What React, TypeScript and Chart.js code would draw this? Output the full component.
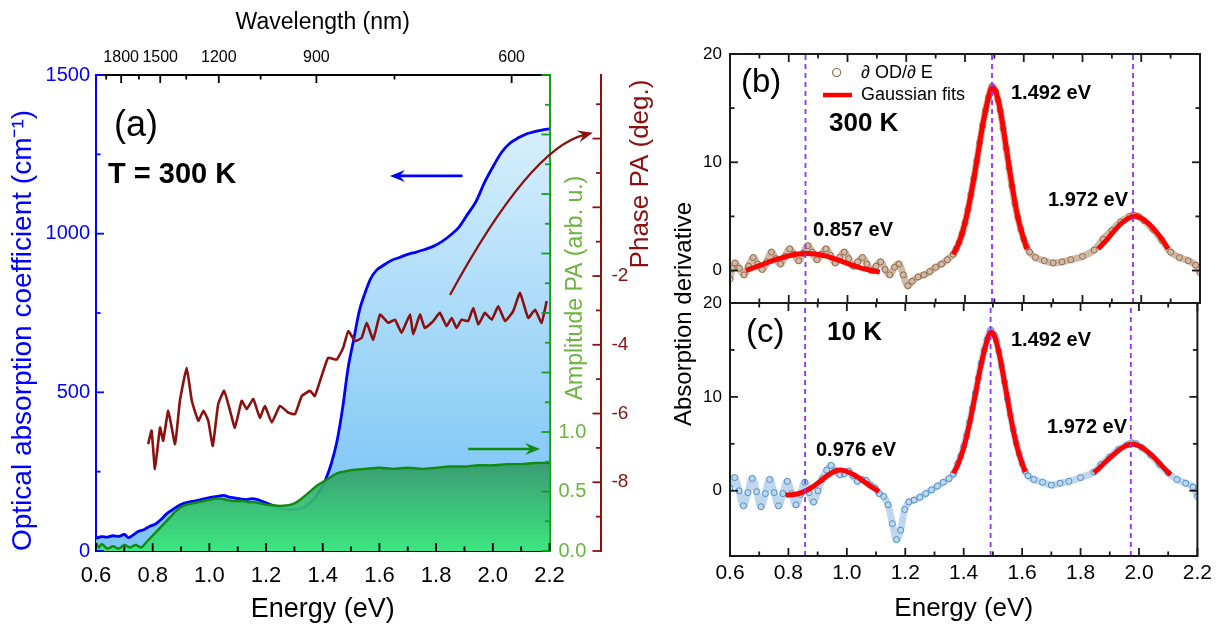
import React, { useEffect, useRef } from "react";
import { Chart, registerables } from "chart.js";

Chart.register(...registerables);
const FONT = "'Liberation Sans', Arimo, Arial, Helvetica, sans-serif";
Chart.defaults.font.family = FONT;

// ---------------- Panel (a) data ----------------
const absorption: number[][] = [
  [0.6, 40], [0.62, 45], [0.64, 44], [0.66, 48], [0.68, 46], [0.7, 52], [0.715, 42], [0.73, 50],
  [0.75, 62], [0.77, 68], [0.79, 78], [0.81, 85], [0.83, 100], [0.85, 118], [0.87, 130], [0.89, 142],
  [0.91, 150], [0.93, 155], [0.95, 158], [0.97, 162], [0.99, 166], [1.01, 170], [1.03, 172], [1.05, 175],
  [1.07, 170], [1.09, 167], [1.11, 164], [1.13, 162], [1.15, 165], [1.17, 162], [1.19, 155], [1.21, 148],
  [1.23, 142], [1.25, 136], [1.27, 131], [1.29, 130], [1.31, 131], [1.33, 137], [1.35, 148], [1.37, 165],
  [1.39, 190], [1.41, 225], [1.43, 275], [1.45, 345], [1.47, 450], [1.49, 580], [1.51, 670], [1.53, 760],
  [1.55, 815], [1.57, 860], [1.59, 885], [1.61, 898], [1.64, 915], [1.67, 925], [1.7, 935], [1.73, 942],
  [1.76, 950], [1.79, 960], [1.82, 975], [1.85, 995], [1.88, 1020], [1.91, 1060], [1.94, 1100], [1.97, 1160],
  [2.0, 1210], [2.03, 1255], [2.06, 1285], [2.09, 1302], [2.12, 1315], [2.15, 1322], [2.18, 1328], [2.2, 1330],
];
const amplitude: number[][] = [
  [0.6, 0.07], [0.61, 0.03], [0.62, 0.06], [0.64, 0.02], [0.66, 0.04], [0.68, 0.02], [0.7, 0.05], [0.72, 0.03],
  [0.74, 0.05], [0.76, 0.03], [0.78, 0.08], [0.8, 0.13], [0.82, 0.18], [0.84, 0.23], [0.86, 0.28], [0.88, 0.33],
  [0.9, 0.37], [0.92, 0.39], [0.94, 0.4], [0.96, 0.41], [0.98, 0.42], [1.0, 0.43], [1.02, 0.44], [1.04, 0.44],
  [1.06, 0.43], [1.08, 0.42], [1.1, 0.42], [1.12, 0.42], [1.14, 0.41], [1.16, 0.41], [1.18, 0.4], [1.2, 0.39],
  [1.22, 0.385], [1.24, 0.38], [1.26, 0.38], [1.28, 0.385], [1.3, 0.4], [1.32, 0.43], [1.34, 0.47], [1.36, 0.51],
  [1.38, 0.55], [1.4, 0.58], [1.42, 0.61], [1.44, 0.64], [1.46, 0.66], [1.48, 0.67], [1.5, 0.68], [1.55, 0.69],
  [1.6, 0.7], [1.65, 0.69], [1.7, 0.7], [1.75, 0.69], [1.8, 0.7], [1.85, 0.71], [1.9, 0.71], [1.95, 0.72],
  [2.0, 0.72], [2.05, 0.73], [2.1, 0.73], [2.15, 0.74], [2.2, 0.74],
];
const phase: number[][] = [
  [0.784, -6.89], [0.796, -6.5], [0.808, -7.61], [0.826, -6.41], [0.837, -6.79], [0.855, -5.92], [0.879, -6.89],
  [0.896, -5.63], [0.92, -4.67], [0.938, -5.63], [0.961, -6.21], [0.979, -5.92], [0.996, -6.21], [1.012, -6.94],
  [1.031, -5.73], [1.052, -5.34], [1.073, -5.92], [1.09, -6.41], [1.114, -5.63], [1.132, -5.87], [1.155, -5.58],
  [1.178, -6.12], [1.196, -5.78], [1.22, -6.26], [1.249, -5.78], [1.278, -5.97], [1.302, -6.02], [1.326, -5.49],
  [1.355, -5.34], [1.372, -5.49], [1.396, -4.91], [1.419, -4.38], [1.449, -4.43], [1.472, -4.09], [1.49, -3.6],
  [1.514, -3.89], [1.537, -3.8], [1.555, -3.36], [1.578, -3.85], [1.602, -3.12], [1.631, -3.36], [1.655, -3.27],
  [1.678, -3.65], [1.708, -3.12], [1.719, -3.7], [1.743, -3.12], [1.76, -3.51], [1.79, -3.31], [1.813, -3.07],
  [1.837, -3.46], [1.855, -3.22], [1.872, -3.51], [1.89, -3.27], [1.913, -3.31], [1.931, -2.93], [1.949, -3.41],
  [1.972, -3.07], [1.996, -3.27], [2.019, -2.88], [2.043, -3.31], [2.072, -3.02], [2.096, -2.49], [2.125, -3.22],
  [2.149, -2.98], [2.172, -3.36], [2.19, -2.73],
];
const wavelengthTicks = [1950, 1800, 1650, 1500, 1350, 1200, 1050, 900, 750, 600];
const wavelengthLabels = [1800, 1500, 1200, 900, 600];

// ---------------- Panel (b) data: 300 K ----------------
const deriv300K: number[][] = [
  [0.6, -0.8], [0.608, 0.2], [0.617, 0.7], [0.632, 0.2], [0.648, -0.4], [0.663, 0.4], [0.679, 1.2], [0.694, 0.6],
  [0.71, 0.1], [0.725, 0.8], [0.741, 1.7], [0.756, 1.1], [0.772, 0.6], [0.787, 1.3], [0.803, 2.0], [0.818, 1.5],
  [0.834, 0.9], [0.849, 1.6], [0.865, 2.3], [0.88, 1.7], [0.896, 1.0], [0.911, 1.5], [0.927, 2.0], [0.942, 1.4],
  [0.958, 0.7], [0.973, 1.2], [0.989, 1.7], [1.004, 1.1], [1.02, 0.4], [1.035, 0.8], [1.051, 1.2], [1.066, 0.6],
  [1.082, 0.0], [1.097, 0.4], [1.113, 0.8], [1.128, 0.1], [1.144, -0.4], [1.16, 0.3], [1.175, 0.6], [1.19, -0.4],
  [1.205, -1.4], [1.22, -1.0], [1.24, -0.6], [1.26, -0.4], [1.28, -0.1], [1.3, 0.3], [1.32, 0.6], [1.34, 1.0],
  [1.36, 1.5], [1.37, 2.0], [1.38, 2.6], [1.39, 3.4], [1.4, 4.4], [1.41, 5.6], [1.42, 7.0], [1.43, 8.5],
  [1.44, 10.1], [1.45, 11.8], [1.46, 13.4], [1.47, 14.8], [1.48, 16.0], [1.492, 17.0], [1.505, 16.5], [1.512, 15.8],
  [1.52, 14.8], [1.53, 13.1], [1.54, 11.3], [1.55, 9.5], [1.56, 7.8], [1.57, 6.2], [1.58, 4.9], [1.59, 3.8],
  [1.6, 2.9], [1.61, 2.2], [1.62, 1.7], [1.64, 1.2], [1.67, 0.9], [1.7, 0.7], [1.73, 0.8], [1.76, 1.0],
  [1.8, 1.3], [1.84, 1.9], [1.87, 2.9], [1.9, 3.7], [1.93, 4.5], [1.96, 5.0], [1.975, 5.1], [1.99, 5.0],
  [2.01, 4.6], [2.04, 3.8], [2.07, 2.8], [2.1, 1.7], [2.13, 1.2], [2.16, 0.9], [2.185, 0.5], [2.2, -0.2],
];
const fit300K_1: number[][] = [
  [0.654, 0.0], [0.7, 0.45], [0.75, 0.95], [0.8, 1.35], [0.83, 1.52], [0.861, 1.58], [0.89, 1.52], [0.93, 1.3],
  [0.97, 0.95], [1.01, 0.55], [1.05, 0.2], [1.08, 0.0], [1.11, -0.15],
];
const fit300K_2: number[][] = [
  [1.36, 1.5], [1.38, 2.6], [1.4, 4.4], [1.42, 7.0], [1.44, 10.1], [1.46, 13.4], [1.48, 16.0], [1.492, 16.9],
  [1.505, 16.5], [1.52, 14.8], [1.54, 11.4], [1.56, 7.9], [1.58, 4.9], [1.6, 2.9], [1.611, 2.0],
];
const fit300K_3: number[][] = [
  [1.853, 2.0], [1.88, 2.75], [1.9, 3.4], [1.93, 4.3], [1.955, 4.8], [1.975, 5.0], [1.995, 4.9], [2.02, 4.45],
  [2.05, 3.6], [2.07, 2.9], [2.091, 2.0],
];

// ---------------- Panel (c) data: 10 K ----------------
const deriv10K: number[][] = [
  [0.6, 0.3], [0.616, 1.4], [0.631, 0.0], [0.646, -1.6], [0.661, -0.2], [0.676, 1.3], [0.691, -0.1], [0.706, -1.7],
  [0.721, -0.3], [0.736, 1.2], [0.751, -0.2], [0.766, -1.6], [0.781, -0.3], [0.796, 1.0], [0.811, -0.3], [0.826, -1.5],
  [0.841, -0.4], [0.856, 0.9], [0.871, -0.2], [0.886, -1.2], [0.901, 0.0], [0.916, 1.3], [0.931, 2.2], [0.946, 2.7],
  [0.961, 2.1], [0.976, 1.7], [0.991, 1.8], [1.006, 2.1], [1.021, 1.6], [1.036, 1.0], [1.051, 1.2], [1.066, 1.1],
  [1.081, 0.6], [1.096, 0.3], [1.111, -0.3], [1.126, -0.6], [1.141, -1.5], [1.156, -3.5], [1.17, -5.2], [1.184, -4.2],
  [1.198, -2.0], [1.212, -1.2], [1.23, -1.0], [1.25, -0.7], [1.27, -0.3], [1.29, 0.1], [1.31, 0.5], [1.33, 0.9],
  [1.35, 1.3], [1.365, 1.8], [1.38, 2.9], [1.39, 3.7], [1.4, 4.7], [1.41, 5.9], [1.42, 7.3], [1.43, 8.8],
  [1.44, 10.4], [1.45, 12.0], [1.46, 13.6], [1.47, 15.0], [1.48, 16.1], [1.492, 17.1], [1.505, 16.6], [1.512, 16.0],
  [1.52, 14.9], [1.53, 13.3], [1.54, 11.6], [1.55, 9.8], [1.56, 8.1], [1.57, 6.5], [1.58, 5.1], [1.59, 3.9],
  [1.6, 2.9], [1.61, 2.1], [1.62, 1.6], [1.64, 1.2], [1.67, 0.9], [1.7, 0.6], [1.73, 0.8], [1.76, 1.0],
  [1.8, 1.4], [1.846, 2.0], [1.87, 2.8], [1.9, 3.6], [1.93, 4.4], [1.96, 4.9], [1.975, 5.1], [1.99, 5.0],
  [2.01, 4.6], [2.04, 3.8], [2.07, 2.8], [2.1, 1.9], [2.13, 1.2], [2.16, 0.8], [2.185, 0.4], [2.2, -0.6],
];
const fit10K_1: number[][] = [
  [0.79, -0.46], [0.82, -0.4], [0.85, -0.15], [0.88, 0.35], [0.91, 1.05], [0.94, 1.75], [0.96, 2.1], [0.978, 2.2],
  [1.0, 2.05], [1.03, 1.6], [1.06, 0.95], [1.09, 0.3], [1.11, -0.1],
];
const fit10K_2: number[][] = [
  [1.365, 1.86], [1.38, 2.8], [1.4, 4.6], [1.42, 7.2], [1.44, 10.3], [1.46, 13.5], [1.48, 16.0], [1.492, 16.9],
  [1.505, 16.5], [1.52, 14.8], [1.54, 11.5], [1.56, 8.0], [1.58, 5.0], [1.6, 2.9], [1.611, 2.0],
];
const fit10K_3: number[][] = [
  [1.846, 1.9], [1.87, 2.6], [1.9, 3.5], [1.93, 4.3], [1.955, 4.8], [1.975, 4.95], [1.995, 4.85], [2.02, 4.4],
  [2.05, 3.6], [2.08, 2.6], [2.108, 1.7],
];
const peakEnergies = [0.857, 1.492, 1.972];
const yRangeB = [-3, 20];
const yRangeC = [-6.95, 20];

// ---------------- helpers ----------------
const pts = (arr: number[][]) => arr.map(([x, y]) => ({ x, y }));
const isMult = (v: number, s: number) => Math.abs(v / s - Math.round(v / s)) < 1e-6;
const BLUE = "#0000ff";
const RED = "#8b1111";
const GREEN_LINE = "#118a11";
const GREEN_AXIS = "#14a014";
const GREEN_TEXT = "#6cb33f";
const VIOLET = "#9130ff";
const NO_GRID = { display: false, drawTicks: false };

type TickSpec = {
  scale: string;
  at: "top" | "bottom" | "left" | "right" | "own";
  dir: number;
  color: string;
  major: (v: number) => boolean;
  minor: (v: number) => boolean;
};

function ticksPlugin(specs: TickSpec[]) {
  return {
    id: "inwardTicks",
    afterDraw(chart: any) {
      const { ctx, chartArea: ca } = chart;
      specs.forEach((sp) => {
        const s = chart.scales[sp.scale];
        if (!s) return;
        ctx.save();
        ctx.strokeStyle = sp.color;
        ctx.lineWidth = 1.8;
        for (const t of s.ticks) {
          const v = t.value;
          const maj = sp.major(v);
          if (!maj && !sp.minor(v)) continue;
          const len = maj ? 8 : 4.5;
          const p = s.getPixelForValue(v);
          ctx.beginPath();
          if (s.isHorizontal()) {
            const y0 = sp.at === "top" ? ca.top : ca.bottom;
            ctx.moveTo(p, y0);
            ctx.lineTo(p, y0 + sp.dir * len);
          } else {
            const x0 = sp.at === "left" ? ca.left : sp.at === "right" ? ca.right : s.left;
            ctx.moveTo(x0, p);
            ctx.lineTo(x0 + sp.dir * len, p);
          }
          ctx.stroke();
        }
        ctx.restore();
      });
    },
  };
}

type Note = {
  kind?: "text" | "circle" | "line";
  text?: string;
  x: number;
  y: number;
  x2?: number;
  font?: string;
  color: string;
  rotate?: boolean;
  width?: number;
};

function notesPlugin(notes: Note[]) {
  return {
    id: "notes",
    afterDraw(chart: any) {
      const ctx = chart.ctx;
      notes.forEach((n) => {
        ctx.save();
        if (n.kind === "circle") {
          ctx.strokeStyle = n.color;
          ctx.lineWidth = 1.2;
          ctx.beginPath();
          ctx.arc(n.x, n.y, 4, 0, Math.PI * 2);
          ctx.stroke();
        } else if (n.kind === "line") {
          ctx.strokeStyle = n.color;
          ctx.lineWidth = n.width || 4;
          ctx.beginPath();
          ctx.moveTo(n.x, n.y);
          ctx.lineTo(n.x2 || n.x, n.y);
          ctx.stroke();
        } else {
          ctx.fillStyle = n.color;
          ctx.font = n.font || `18px ${FONT}`;
          ctx.textBaseline = "middle";
          if (n.rotate) {
            ctx.translate(n.x, n.y);
            ctx.rotate(-Math.PI / 2);
            ctx.textAlign = "center";
            ctx.fillText(n.text || "", 0, 0);
          } else {
            ctx.textAlign = "left";
            ctx.fillText(n.text || "", n.x, n.y);
          }
        }
        ctx.restore();
      });
    },
  };
}

type Arrow = { ys: string; path: number[][]; color: string; width: number };

function arrowsPlugin(arrows: Arrow[]) {
  return {
    id: "arrows",
    afterDraw(chart: any) {
      const ctx = chart.ctx;
      const xs = chart.scales.x;
      arrows.forEach((a) => {
        const ys = chart.scales[a.ys];
        const p = a.path.map(([x, y]) => [xs.getPixelForValue(x), ys.getPixelForValue(y)]);
        const tip = p[p.length - 1];
        const prev = p[p.length - 2];
        let dx = tip[0] - prev[0];
        let dy = tip[1] - prev[1];
        const L = Math.hypot(dx, dy) || 1;
        dx /= L;
        dy /= L;
        const hl = 15;
        const hw = 6;
        ctx.save();
        ctx.strokeStyle = a.color;
        ctx.fillStyle = a.color;
        ctx.lineWidth = a.width;
        ctx.beginPath();
        ctx.moveTo(p[0][0], p[0][1]);
        const endX = tip[0] - dx * hl * 0.6;
        const endY = tip[1] - dy * hl * 0.6;
        if (p.length === 3) ctx.quadraticCurveTo(p[1][0], p[1][1], endX, endY);
        else ctx.lineTo(endX, endY);
        ctx.stroke();
        ctx.beginPath();
        ctx.moveTo(tip[0], tip[1]);
        ctx.lineTo(tip[0] - dx * hl - dy * hw, tip[1] - dy * hl + dx * hw);
        ctx.lineTo(tip[0] - dx * hl * 0.65, tip[1] - dy * hl * 0.65);
        ctx.lineTo(tip[0] - dx * hl + dy * hw, tip[1] - dy * hl - dx * hw);
        ctx.closePath();
        ctx.fill();
        ctx.restore();
      });
    },
  };
}

const framePlugin = {
  id: "frame",
  afterDraw(chart: any) {
    const { ctx, chartArea: ca } = chart;
    ctx.save();
    ctx.strokeStyle = "#1a1a1a";
    ctx.lineWidth = 2;
    ctx.strokeRect(ca.left, ca.top, ca.right - ca.left, ca.bottom - ca.top);
    ctx.restore();
  },
};

const blueFill = (c: any) => {
  const chart = c.chart;
  const ca = chart.chartArea;
  if (!ca) return "rgba(140,205,245,0.7)";
  const g = chart.ctx.createLinearGradient(0, ca.top, 0, ca.bottom);
  g.addColorStop(0, "#e4f5fd");
  g.addColorStop(0.8, "#88cbf6");
  g.addColorStop(1, "#7cc5f3");
  return g;
};
const greenFill = (c: any) => {
  const chart = c.chart;
  const s = chart.scales.yAmp;
  if (!s || !chart.chartArea) return "rgba(60,200,110,0.9)";
  const g = chart.ctx.createLinearGradient(0, s.getPixelForValue(0.78), 0, s.getPixelForValue(0));
  g.addColorStop(0, "rgba(50,148,100,0.9)");
  g.addColorStop(1, "rgba(58,232,122,0.95)");
  return g;
};

function configA(): any {
  return {
    type: "line",
    data: {
      datasets: [
        {
          label: "Phase PA",
          data: pts(phase),
          yAxisID: "yPh",
          borderColor: RED,
          borderWidth: 2.6,
          pointRadius: 0,
          tension: 0.12,
          fill: false,
        },
        {
          label: "Amplitude PA",
          data: pts(amplitude),
          yAxisID: "yAmp",
          borderColor: GREEN_LINE,
          borderWidth: 2.4,
          pointRadius: 0,
          tension: 0.25,
          fill: "origin",
          backgroundColor: greenFill,
        },
        {
          label: "Optical absorption coefficient",
          data: pts(absorption),
          yAxisID: "y",
          borderColor: BLUE,
          borderWidth: 2.8,
          pointRadius: 0,
          tension: 0.35,
          fill: "origin",
          backgroundColor: blueFill,
        },
      ],
    },
    options: {
      responsive: false,
      maintainAspectRatio: false,
      animation: false,
      layout: { padding: 0 },
      plugins: { legend: { display: false }, tooltip: { enabled: false } },
      scales: {
        x: {
          type: "linear",
          position: "bottom",
          min: 0.6,
          max: 2.2,
          grid: NO_GRID,
          border: { display: true, color: "#000", width: 2 },
          ticks: {
            stepSize: 0.1,
            autoSkip: false,
            maxRotation: 0,
            minRotation: 0,
            color: "#000",
            font: { size: 22 },
            padding: 12,
            callback: (v: number) => (isMult(v, 0.2) ? v.toFixed(1) : ""),
          },
          title: { display: true, text: "Energy (eV)", color: "#000", font: { size: 27 }, padding: { top: 0, bottom: 4 } },
          afterFit: (s: any) => {
            s.height = 79;
          },
        },
        x2: {
          type: "linear",
          position: "top",
          min: 0.6,
          max: 2.2,
          grid: NO_GRID,
          border: { display: true, color: "#000", width: 2 },
          afterBuildTicks: (s: any) => {
            s.ticks = wavelengthTicks.map((w) => ({ value: 1239.84 / w }));
          },
          ticks: {
            autoSkip: false,
            maxRotation: 0,
            minRotation: 0,
            color: "#000",
            font: { size: 16 },
            padding: 8,
            callback: (v: number) => {
              const w = Math.round(1239.84 / v);
              return wavelengthLabels.includes(w) ? String(w) : "";
            },
          },
          title: { display: true, text: "Wavelength (nm)", color: "#000", font: { size: 23 }, padding: { top: 9, bottom: 0 } },
          afterFit: (s: any) => {
            s.height = 75;
          },
        },
        y: {
          type: "linear",
          position: "left",
          min: 0,
          max: 1500,
          grid: NO_GRID,
          border: { display: true, color: BLUE, width: 2 },
          ticks: {
            stepSize: 250,
            autoSkip: false,
            color: BLUE,
            font: { size: 20 },
            padding: 6,
            callback: (v: number) => (isMult(v, 500) ? String(v) : ""),
          },
          title: {
            display: true,
            text: "Optical absorption coefficient (cm⁻¹)",
            color: BLUE,
            font: { size: 28 },
            align: "start",
            padding: { top: 6, bottom: 0 },
          },
          afterFit: (s: any) => {
            s.width = 96;
          },
        },
        yAmp: {
          type: "linear",
          position: "right",
          min: 0,
          max: 4,
          grid: NO_GRID,
          border: { display: true, color: GREEN_AXIS, width: 2 },
          ticks: {
            stepSize: 0.25,
            autoSkip: false,
            color: GREEN_TEXT,
            font: { size: 20 },
            padding: 9,
            callback: (v: number) => (isMult(v, 0.5) && v <= 1.0001 ? v.toFixed(1) : ""),
          },
          afterFit: (s: any) => {
            s.width = 51;
          },
        },
        yPh: {
          type: "linear",
          position: "right",
          min: -10,
          max: 3.85,
          grid: NO_GRID,
          border: { display: true, color: RED, width: 2 },
          ticks: {
            stepSize: 1,
            autoSkip: false,
            color: RED,
            font: { size: 19 },
            padding: 11,
            callback: (v: number) => (isMult(v, 2) && v <= -2 && v >= -8 ? String(v) : ""),
          },
          afterFit: (s: any) => {
            s.width = 59.5;
          },
        },
      },
    },
    plugins: [
      ticksPlugin([
        { scale: "x", at: "bottom", dir: -1, color: "#000", major: (v) => isMult(v, 0.2), minor: (v) => isMult(v, 0.1) },
        {
          scale: "x2",
          at: "top",
          dir: 1,
          color: "#000",
          major: (v) => wavelengthLabels.includes(Math.round(1239.84 / v)),
          minor: () => true,
        },
        { scale: "y", at: "left", dir: 1, color: BLUE, major: (v) => isMult(v, 500), minor: (v) => isMult(v, 250) },
        { scale: "yAmp", at: "right", dir: -1, color: GREEN_AXIS, major: (v) => isMult(v, 0.5), minor: (v) => isMult(v, 0.25) },
        { scale: "yPh", at: "own", dir: -1, color: RED, major: (v) => isMult(v, 2), minor: (v) => isMult(v, 1) },
      ]),
      arrowsPlugin([
        { ys: "y", path: [[1.893, 1182], [1.637, 1182]], color: BLUE, width: 2.6 },
        { ys: "yAmp", path: [[1.913, 0.857], [2.167, 0.857]], color: GREEN_LINE, width: 2.6 },
        { ys: "yPh", path: [[1.849, -2.55], [2.131, 1.71], [2.353, 2.17]], color: RED, width: 2.2 },
      ]),
      notesPlugin([
        { text: "(a)", x: 114, y: 126, font: `36px ${FONT}`, color: "#000" },
        { text: "T = 300 K", x: 108, y: 175, font: `bold 29px ${FONT}`, color: "#000" },
        { text: "Amplitude PA (arb. u.)", x: 576, y: 288, font: `23px ${FONT}`, color: GREEN_TEXT, rotate: true },
        { text: "Phase PA (deg.)", x: 641, y: 174, font: `26px ${FONT}`, color: RED, rotate: true },
      ]),
    ],
  };
}

function derivConfig(opts: {
  data: number[][];
  fits: number[][][];
  yRange: number[];
  dataColor: string;
  bandColor: string;
  showX: boolean;
  top: number;
  bottomH: number;
  notes: Note[];
}): any {
  const [ymin, ymax] = opts.yRange;
  const dashed = peakEnergies.map((e) => ({
    label: `peak ${e}`,
    data: [{ x: e, y: ymin }, { x: e, y: ymax }],
    borderColor: VIOLET,
    borderWidth: 1.8,
    borderDash: [5, 4],
    pointRadius: 0,
    fill: false,
  }));
  const fitSets = opts.fits.map((f, i) => ({
    label: i === 0 ? "Gaussian fits" : "",
    data: pts(f),
    borderColor: "#ff0000",
    borderWidth: 5,
    pointRadius: 0,
    tension: 0.4,
    fill: false,
  }));
  const dataSet = {
    label: "∂ OD/∂ E",
    data: pts(opts.data),
    borderColor: opts.bandColor,
    borderWidth: 7,
    tension: 0.4,
    pointRadius: 3,
    pointBorderWidth: 1,
    pointBorderColor: opts.dataColor,
    pointBackgroundColor: "rgba(255,255,255,0)",
    fill: false,
  };
  return {
    type: "line",
    data: { datasets: [...dashed, ...fitSets, dataSet] },
    options: {
      responsive: false,
      maintainAspectRatio: false,
      animation: false,
      layout: { padding: { top: opts.top, right: 17, left: 0, bottom: 0 } },
      plugins: { legend: { display: false }, tooltip: { enabled: false } },
      scales: {
        x: {
          type: "linear",
          min: 0.6,
          max: 2.2,
          grid: NO_GRID,
          border: { display: false },
          ticks: {
            display: opts.showX,
            stepSize: 0.1,
            autoSkip: false,
            maxRotation: 0,
            minRotation: 0,
            color: "#000",
            font: { size: 21 },
            padding: 5,
            callback: (v: number) => (isMult(v, 0.2) ? v.toFixed(1) : ""),
          },
          title: { display: opts.showX, text: "Energy (eV)", color: "#000", font: { size: 26 }, padding: { top: 0, bottom: 6 } },
          afterFit: (s: any) => {
            s.height = opts.bottomH;
          },
        },
        y: {
          type: "linear",
          min: ymin,
          max: ymax,
          grid: NO_GRID,
          border: { display: false },
          ticks: {
            stepSize: 5,
            autoSkip: false,
            color: "#000",
            font: { size: 17 },
            padding: 8,
            callback: (v: number) => (isMult(v, 10) ? String(v) : ""),
          },
          afterFit: (s: any) => {
            s.width = 70;
          },
        },
      },
    },
    plugins: [
      framePlugin,
      ticksPlugin([
        { scale: "x", at: "bottom", dir: -1, color: "#1a1a1a", major: (v) => isMult(v, 0.2), minor: (v) => isMult(v, 0.1) },
        { scale: "x", at: "top", dir: 1, color: "#1a1a1a", major: (v) => isMult(v, 0.2), minor: (v) => isMult(v, 0.1) },
        { scale: "y", at: "left", dir: 1, color: "#1a1a1a", major: (v) => isMult(v, 10), minor: (v) => isMult(v, 5) },
        { scale: "y", at: "right", dir: -1, color: "#1a1a1a", major: (v) => isMult(v, 10), minor: (v) => isMult(v, 5) },
      ]),
      notesPlugin(opts.notes),
    ],
  };
}

const BROWN = "#8f6a48";
const LIGHTBLUE = "#4f8fc6";

function configB(): any {
  return derivConfig({
    data: deriv300K,
    fits: [fit300K_1, fit300K_2, fit300K_3],
    yRange: yRangeB,
    dataColor: BROWN,
    bandColor: "rgba(170,130,95,0.55)",
    showX: false,
    top: 54,
    bottomH: 630 - 303,
    notes: [
      { text: "(b)", x: 81, y: 83, font: `33px ${FONT}`, color: "#000" },
      { kind: "circle", x: 176.6, y: 72.5, color: BROWN },
      { text: "∂ OD/∂ E", x: 201, y: 73, font: `18px ${FONT}`, color: "#000" },
      { kind: "line", x: 163, x2: 192, y: 95, color: "#ff0000", width: 4.5 },
      { text: "Gaussian fits", x: 201, y: 95, font: `18px ${FONT}`, color: "#000" },
      { text: "300 K", x: 169, y: 124, font: `bold 26px ${FONT}`, color: "#000" },
      { text: "1.492 eV", x: 351, y: 93, font: `bold 20px ${FONT}`, color: "#000" },
      { text: "1.972 eV", x: 388, y: 200, font: `bold 20px ${FONT}`, color: "#000" },
      { text: "0.857 eV", x: 153, y: 230, font: `bold 20px ${FONT}`, color: "#000" },
    ],
  });
}

function configC(): any {
  return derivConfig({
    data: deriv10K,
    fits: [fit10K_1, fit10K_2, fit10K_3],
    yRange: yRangeC,
    dataColor: LIGHTBLUE,
    bandColor: "rgba(125,175,220,0.5)",
    showX: true,
    top: 303,
    bottomH: 74,
    notes: [
      { text: "(c)", x: 86, y: 333, font: `33px ${FONT}`, color: "#000" },
      { text: "10 K", x: 167, y: 333, font: `bold 26px ${FONT}`, color: "#000" },
      { text: "1.492 eV", x: 351, y: 340, font: `bold 20px ${FONT}`, color: "#000" },
      { text: "1.972 eV", x: 387, y: 427, font: `bold 20px ${FONT}`, color: "#000" },
      { text: "0.976 eV", x: 156, y: 450, font: `bold 20px ${FONT}`, color: "#000" },
      { text: "Absorption derivative", x: 24, y: 314, font: `24px ${FONT}`, color: "#000", rotate: true },
    ],
  });
}

export default function App() {
  const refA = useRef<HTMLCanvasElement>(null);
  const refB = useRef<HTMLCanvasElement>(null);
  const refC = useRef<HTMLCanvasElement>(null);
  useEffect(() => {
    const a = new Chart(refA.current as HTMLCanvasElement, configA());
    const b = new Chart(refB.current as HTMLCanvasElement, configB());
    const c = new Chart(refC.current as HTMLCanvasElement, configC());
    return () => {
      a.destroy();
      b.destroy();
      c.destroy();
    };
  }, []);
  return (
    <div style={{ position: "absolute", left: 0, top: 0, width: 1217, height: 630, background: "#fff", overflow: "hidden" }}>
      <canvas ref={refA} width={660} height={630} style={{ position: "absolute", left: 0, top: 0 }} />
      <canvas ref={refB} width={557} height={630} style={{ position: "absolute", left: 660, top: 0 }} />
      <canvas ref={refC} width={557} height={630} style={{ position: "absolute", left: 660, top: 0 }} />
    </div>
  );
}
